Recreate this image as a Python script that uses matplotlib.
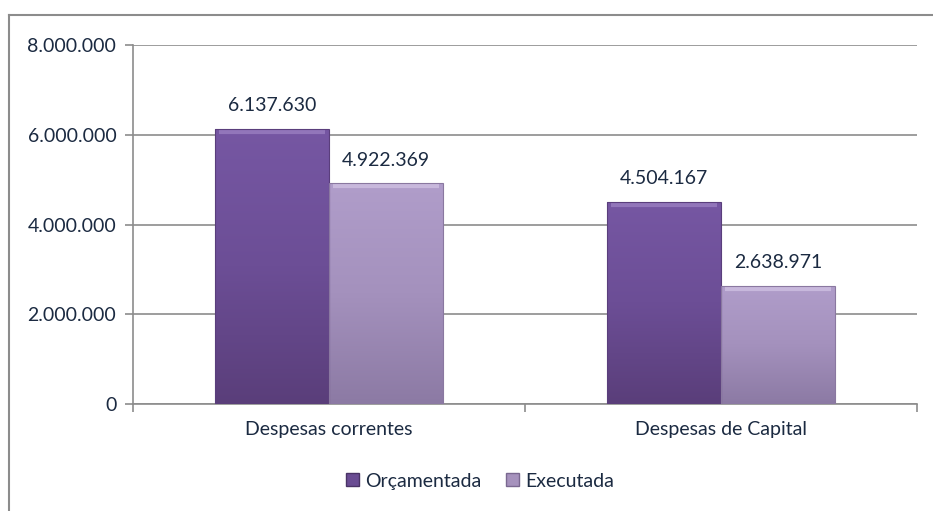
import matplotlib
matplotlib.use("Agg")
import matplotlib.pyplot as plt
import numpy as np
from matplotlib.lines import Line2D
from matplotlib.colors import LinearSegmentedColormap

categories = ["Despesas correntes", "Despesas de Capital"]
series_names = ["Orçamentada", "Executada"]
orcamentada = [6137630, 4504167]
executada = [4922369, 2638971]
yticks = [0, 2000000, 4000000, 6000000, 8000000]

def fmt(v):
    return f"{v:,}".replace(",", ".")

TXT = "#1B2A41"
GRID = "#8C8C8C"
C_DARK = "#6A4C93"
C_LIGHT = "#A692BD"
GRAD_DARK = ("#5A3E7A", "#6C4E96", "#7657A3")
GRAD_LIGHT = ("#8C7AA4", "#A491BD", "#B09DCA")

plt.rcParams['font.family'] = ['Lato', 'DejaVu Sans']
FS = 14

fig = plt.figure(figsize=(9.33, 5.11), dpi=100)
ax = fig.add_axes([133/933, 1-404/511, (917-133)/933, (404-45)/511])

x = np.arange(len(categories))
w = 0.29
b1 = ax.bar(x - w/2, orcamentada, w, color=C_DARK, edgecolor="#5A3E7C", linewidth=0.8, zorder=3)
b2 = ax.bar(x + w/2, executada, w, color=C_LIGHT, edgecolor="#8A78A0", linewidth=0.8, zorder=3)

grad = np.linspace(0, 1, 256).reshape(-1, 1)
for bars, cols, hl in ((b1, GRAD_DARK, "#A68DCB"), (b2, GRAD_LIGHT, "#D9CCEA")):
    cmap = LinearSegmentedColormap.from_list("g", list(cols))
    for r in bars:
        x0, y0 = r.get_x(), r.get_y()
        im = ax.imshow(grad, cmap=cmap, origin="lower", aspect="auto", zorder=3.5,
                       extent=(x0, x0 + r.get_width(), y0, y0 + r.get_height()))
        im.set_clip_path(r)
        ax.plot([x0 + 0.01, x0 + r.get_width() - 0.01], [r.get_height() - 70000] * 2,
                color=hl, lw=3, alpha=0.6, zorder=3.6, solid_capstyle="butt")
        r.set_facecolor("none")
        r.set_zorder(3.7)

for bars, vals in ((b1, orcamentada), (b2, executada)):
    for r, v in zip(bars, vals):
        ax.annotate(fmt(v), (r.get_x() + r.get_width()/2, v), xytext=(0, 10.5),
                    textcoords="offset points", ha="center", va="bottom",
                    fontsize=FS, color=TXT)

ax.set_xlim(-0.5, len(categories) - 0.5)
ax.set_ylim(0, 8000000)
ax.set_yticks(yticks)
ax.set_yticklabels([fmt(v) for v in yticks], fontsize=FS, color=TXT)
ax.yaxis.grid(True, color=GRID, linewidth=1.2, zorder=0)
ax.set_axisbelow(True)

ax.set_xticks(x)
ax.set_xticklabels(categories, fontsize=FS, color=TXT)
ax.tick_params(axis="x", length=0, pad=12)
ax.set_xticks(np.arange(len(categories) + 1) - 0.5, minor=True)
ax.tick_params(axis="x", which="minor", length=6, width=1.2, color=GRID, direction="out")
ax.tick_params(axis="y", length=6, width=1.2, color=GRID, pad=6)

for s in ("top", "right"):
    ax.spines[s].set_visible(False)
for s in ("left", "bottom"):
    ax.spines[s].set_color(GRID)
    ax.spines[s].set_linewidth(1.2)

# outer chart border
fig.add_artist(Line2D([9/933, 9/933], [0, 1-15/511], transform=fig.transFigure, color="#8C8C8C", lw=1.5))
fig.add_artist(Line2D([9/933, 1], [1-15/511, 1-15/511], transform=fig.transFigure, color="#8C8C8C", lw=1.5))

handles = [plt.Rectangle((0, 0), 1, 1, facecolor=C_DARK, edgecolor="#4A3366"),
           plt.Rectangle((0, 0), 1, 1, facecolor=C_LIGHT, edgecolor="#7A6890")]
fig.legend(handles, series_names, loc="center", bbox_to_anchor=(480/933, 1-481/511),
           ncol=2, frameon=False, fontsize=FS, handlelength=0.65, handleheight=0.65,
           handletextpad=0.3, columnspacing=1.3, labelcolor=TXT)

fig.savefig("out.png", dpi=100)
